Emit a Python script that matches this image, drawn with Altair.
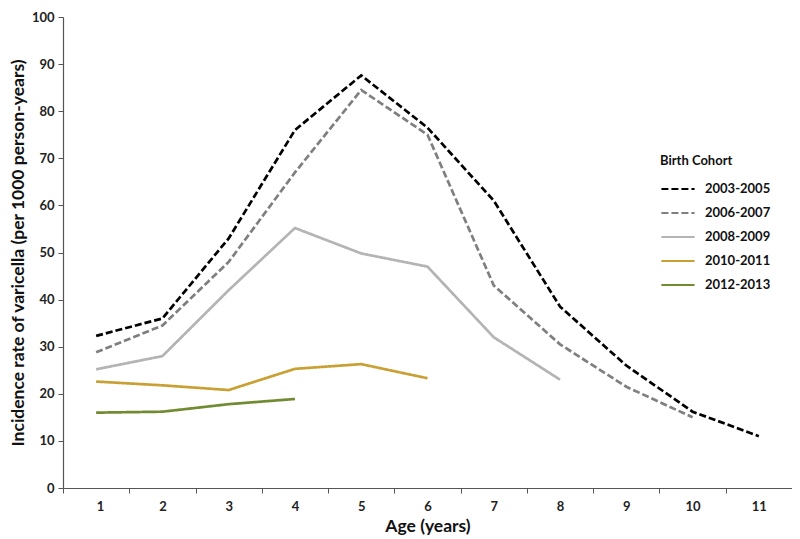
import altair as alt
import pandas as pd

ages = [1, 2, 3, 4, 5, 6, 7, 8, 9, 10, 11]
cohorts = ["2003-2005", "2006-2007", "2008-2009", "2010-2011", "2012-2013"]
c2003 = [32.3, 36.0, 53.0, 76.0, 87.6, 76.5, 61.0, 38.5, 26.0, 16.2, 11.0]
c2006 = [28.8, 34.5, 48.0, 67.0, 84.5, 75.0, 43.0, 30.5, 21.5, 15.0]
c2008 = [25.2, 28.0, 42.0, 55.2, 49.8, 47.0, 32.0, 23.0]
c2010 = [22.6, 21.8, 20.8, 25.3, 26.3, 23.3]
c2012 = [16.0, 16.2, 17.8, 18.9]
colors = ["#000000", "#7f7f7f", "#b4b4b4", "#c9a033", "#718b33"]
dashes = [[7, 3], [7, 3], [1, 0], [1, 0], [1, 0]]

rows = []
for name, vals in zip(cohorts, [c2003, c2006, c2008, c2010, c2012]):
    for a, v in zip(ages, vals):
        rows.append({"age": a, "rate": v, "cohort": name})
df = pd.DataFrame(rows)

W, H = 729, 471
unit = W / 11

font = "Lato"
tick_vals = [x + 0.5 for x in range(0, 12)]

lines = alt.Chart(df).mark_line(strokeWidth=2.7).encode(
    x=alt.X("age:Q", scale=alt.Scale(domain=[0.5, 11.5], nice=False, zero=False),
            axis=alt.Axis(values=tick_vals, title="Age (years)",
                          labelExpr="datum.value < 11 ? format(datum.value + 0.5, 'd') : ''",
                          labelOffset=unit / 2, grid=False, tickSize=5,
                          labelPadding=7, titlePadding=4)),
    y=alt.Y("rate:Q", scale=alt.Scale(domain=[0, 100], nice=False),
            axis=alt.Axis(values=list(range(0, 101, 10)), grid=False, tickSize=5,
                          title="Incidence rate of varicella (per 1000 person-years)",
                          labelPadding=4, titlePadding=4)),
    color=alt.Color("cohort:N", scale=alt.Scale(domain=cohorts, range=colors),
                    legend=alt.Legend(title="Birth Cohort", orient="none",
                                      legendX=597, legendY=138)),
    strokeDash=alt.StrokeDash("cohort:N", scale=alt.Scale(domain=cohorts, range=dashes),
                              legend=None),
    detail="cohort:N",
)

chart = lines.properties(
    width=W, height=H,
    padding={"left": 55, "top": 9, "right": 0, "bottom": 48},
    autosize=alt.AutoSizeParams(type="none"),
).configure_view(stroke=None).configure_axis(
    domainColor="#555555", tickColor="#555555", domainWidth=1.2,
    labelFont=font, labelFontSize=13, labelFontWeight="bold", labelColor="#222222",
    titleFont=font, titleFontSize=17.5, titleFontWeight="bold", titleColor="#111111",
).configure_legend(
    titleFont=font, titleFontSize=13, titleFontWeight="bold", titleColor="#111111",
    labelFont=font, labelFontSize=13, labelFontWeight="bold", labelColor="#111111",
    symbolType="stroke", symbolSize=1100, symbolStrokeWidth=2.2, rowPadding=10,
    clipHeight=14, titlePadding=14, labelOffset=9,
)

chart.save("out.html", embed_options={"renderer": "svg", "actions": False})
